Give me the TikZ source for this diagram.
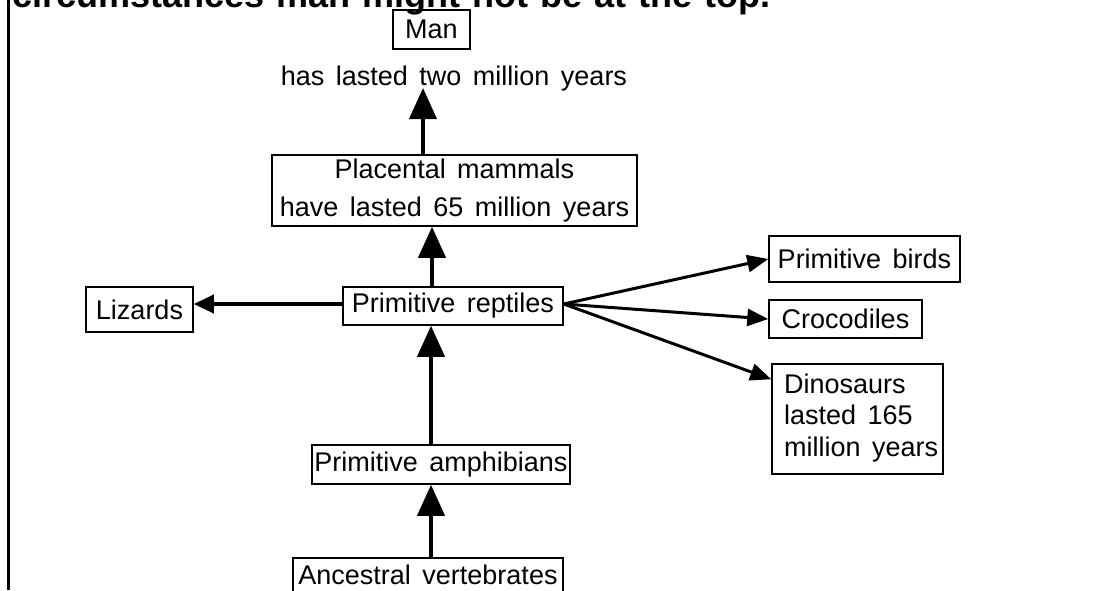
\documentclass[tikz,border=0pt]{standalone}
\usepackage{fontspec}
\setmainfont{Liberation Sans}
\usetikzlibrary{arrows.meta,calc}
% text faces: boxes and labels, the tighter three-line list, and the bold caption line
\newcommand{\chartfont}{\fontsize{27}{38}\selectfont\spaceskip=11.5pt plus 1pt\relax}
\newcommand{\listfont}{\fontsize{27}{31.5}\selectfont\spaceskip=11.5pt plus 1pt\relax}
\newcommand{\headfont}{\fontsize{36}{40}\selectfont\bfseries\spaceskip=12pt plus 1pt\relax}
\begin{document}
\begin{tikzpicture}[x=1pt,y=-1pt,
  box/.style={draw=black, line width=1.5pt, inner sep=0pt, align=center,
    font=\chartfont},
  bigtip/.style={line width=4pt, -{Triangle[length=31pt,width=27pt]}},
  sidetip/.style={line width=3.5pt, -{Triangle[length=20pt,width=18pt]}},
  fantip/.style={line width=3pt, -{Triangle[length=21pt,width=17pt]}}]
\useasboundingbox (0,0) rectangle (1107,590);
\clip (0,0) rectangle (1107,590);
\fill[white] (0,0) rectangle (1107,590);

% page edge and the caption line running above the chart
\draw[line width=2.5pt] (8.5,0) -- (8.5,590);
\node[anchor=base west, inner sep=0pt, font=\headfont]
  (title) at (12,7) {circumstances man might not be at the top.};

% the lineage, bottom to top
\node[box, minimum width=77pt, minimum height=39pt] (man) at (431.5,29.5) {Man};
\node[anchor=base, inner sep=0pt, font=\chartfont]
  (hl) at (454,85) {has lasted two million years};
\node[box, minimum width=365pt, minimum height=71pt] (plac) at (454.5,190.5)
  {Placental mammals\\have lasted 65 million years};
\node[box, minimum width=220pt, minimum height=38pt] (rep) at (453,306) {Primitive reptiles};
\node[box, minimum width=107pt, minimum height=45pt] (liz) at (139.5,309.5) {Lizards};
\node[box, minimum width=191pt, minimum height=46pt] (bird) at (864.5,259) {Primitive birds};
\node[box, minimum width=153pt, minimum height=38pt] (croc) at (845.5,319) {Crocodiles};
% three-line box: frame, and left-set text placed by its last baseline
\node[box, minimum width=171pt, minimum height=110pt] (dino) at (857.5,419) {};
\node[anchor=base west, inner sep=0pt, align=left, font=\listfont]
  (dinotext) at (784,456) {Dinosaurs\\lasted 165\\million years};
\node[box, minimum width=258pt, minimum height=39pt] (amph) at (441,464.5) {Primitive amphibians};
\node[box, minimum width=270pt, minimum height=34pt] (anc) at (428,575) {Ancestral vertebrates};

% connectors
\coordinate (sx) at (431,0);
\coordinate (sy) at (432,0);
\coordinate (sm) at (423,0);
\draw[bigtip] (anc.north -| sx) -- (amph.south -| sx);
\draw[bigtip] (amph.north -| sx) -- (rep.south -| sx);
\draw[bigtip] (rep.north -| sy) -- (plac.south -| sy);
\draw[bigtip] (plac.north -| sm) -- ($(hl.base -| sm)+(0,3)$);
\draw[sidetip] ([yshift=2pt]rep.west) -- ([yshift=2pt]rep.west -| liz.east);
\draw[fantip] ([yshift=2pt]rep.east) -- (bird.west);
\draw[fantip] ([yshift=2pt]rep.east) -- (croc.west);
\draw[fantip] ([yshift=2pt]rep.east) -- ([yshift=-16pt]dino.north west);
\end{tikzpicture}
\end{document}
